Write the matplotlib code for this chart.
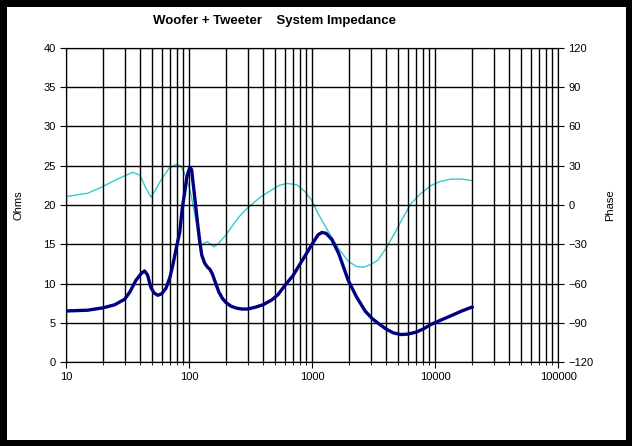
import matplotlib
matplotlib.use("Agg")
import matplotlib.pyplot as plt
from matplotlib.ticker import FixedLocator, NullFormatter, LogLocator

plt.rcParams.update({"font.family": ["Liberation Sans", "DejaVu Sans"], "font.size": 8})

# impedance magnitude
f_imp = [10, 15, 20, 25, 27, 30, 33, 37, 41, 43.5, 46, 49, 52, 55.7, 60, 65, 70, 74, 80, 84,
         88, 92, 96, 100, 102, 105, 110, 117, 122, 127, 134, 141, 148, 155, 165, 175, 187,
         199, 220, 245, 270, 300, 350, 400, 470, 530, 605, 700, 800, 900, 1000, 1120, 1200,
         1300, 1450, 1650, 1970, 2300, 2700, 3100, 3440, 4000, 4600, 5300, 6000, 7000, 8000,
         9300, 11000, 13500, 16500, 20000]
ohms = [6.5, 6.6, 6.9, 7.3, 7.6, 8.0, 8.9, 10.4, 11.3, 11.6, 11.1, 9.5, 8.8, 8.5, 8.7, 9.4,
        10.8, 12.4, 15.0, 16.5, 19.5, 21.5, 23.5, 24.5, 24.8, 24.5, 21.7, 17.9, 15.5, 13.6,
        12.6, 12.1, 11.8, 11.2, 10.0, 8.9, 8.1, 7.6, 7.1, 6.85, 6.75, 6.75, 7.0, 7.3, 7.9,
        8.6, 9.8, 11.0, 12.5, 13.8, 15.0, 16.2, 16.5, 16.4, 15.6, 13.8, 10.4, 8.3, 6.5, 5.5,
        4.95, 4.2, 3.7, 3.5, 3.55, 3.8, 4.2, 4.8, 5.3, 5.9, 6.5, 7.0]

# phase in degrees
f_ph = [10, 15, 19, 27, 35, 40, 44, 49, 53, 57.5, 63, 69, 78, 85, 89, 95, 100, 105, 110, 114,
        121, 126, 133, 141, 150, 160, 175, 199, 255, 297, 380, 470, 540, 627, 750, 880, 995,
        1120, 1360, 1650, 1970, 2300, 2610, 3000, 3440, 4000, 4700, 5500, 6400, 7700, 9300,
        11000, 13500, 16500, 20000]
phase = [6.4, 9, 13.2, 20.4, 25, 22.8, 14, 6, 11, 17, 23, 28, 31, 30, 27, 21, 14, 6, -5, -12,
         -29, -31, -29, -28, -30, -32, -29, -23, -9, -2.5, 6, 11.5, 15, 16.5, 15.5, 10, 3.5,
         -6.5, -20.5, -33.5, -43, -47, -47.6, -45.5, -42, -33, -21.5, -9.5, 1.3, 9, 15, 18,
         19.8, 19.8, 18.6]

ohm_ticks = [0, 5, 10, 15, 20, 25, 30, 35, 40]
phase_ticks = [-120, -90, -60, -30, 0, 30, 60, 90, 120]

fig = plt.figure(figsize=(6.32, 4.46), dpi=100)
fig.patch.set_edgecolor("black")
fig.patch.set_linewidth(8)

ax = fig.add_axes([0.1044, 0.1883, 0.7786, 0.7041])
ax.set_xscale("log")
ax.set_xlim(10, 100000)
ax.set_ylim(0, 40)
ax.yaxis.set_major_locator(FixedLocator(ohm_ticks))
ax.xaxis.set_major_locator(LogLocator(base=10))
ax.xaxis.set_minor_locator(LogLocator(base=10, subs=range(2, 10)))
ax.xaxis.set_minor_formatter(NullFormatter())
ax.set_xticks([10, 100, 1000, 10000, 100000], ["10", "100", "1000", "10000", "100000"])
ax.grid(True, which="both", axis="x", color="black", lw=1)
ax.grid(True, which="major", axis="y", color="black", lw=1)
ax.tick_params(axis="both", which="both", direction="out", length=4, color="black", labelsize=8)
ax.tick_params(axis="x", which="minor", length=2)
for s in ax.spines.values():
    s.set_color("black")
ax.set_ylabel("Ohms", fontsize=8, labelpad=14)

ax2 = ax.twinx()
ax2.set_ylim(-120, 120)
ax2.yaxis.set_major_locator(FixedLocator(phase_ticks))
ax2.tick_params(axis="y", direction="out", length=4, labelsize=8)
ax2.set_ylabel("Phase", fontsize=8, labelpad=8)

ax2.plot(f_ph, phase, color="#33CCCC", lw=1.0)
ax.plot(f_imp, ohms, color="#000080", lw=2.4, zorder=5)
ax.set_zorder(ax2.get_zorder() + 1)
ax.patch.set_visible(False)

fig.text(0.435, 0.952, "Woofer + Tweeter    System Impedance", ha="center", va="center",
         fontsize=9.5, fontweight="bold")

fig.savefig("out.png", dpi=100)
